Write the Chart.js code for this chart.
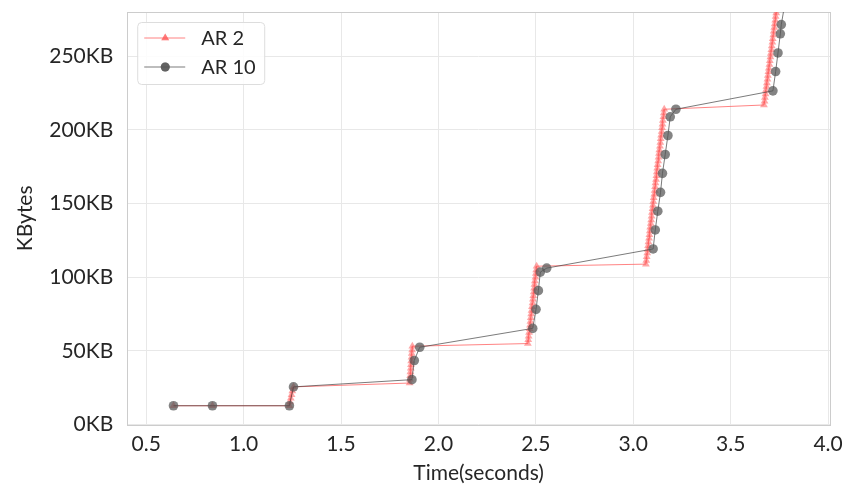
<!DOCTYPE html>
<html>
<head>
<meta charset="utf-8">
<script src="https://cdn.jsdelivr.net/npm/chart.js@4"></script>
<style>
  html, body { margin: 0; padding: 0; background: #fff; }
</style>
</head>
<body>
<canvas id="kbChart" width="846" height="487"></canvas>
<script>
// tick labels
let xTicks = [0.5, 1.0, 1.5, 2.0, 2.5, 3.0, 3.5, 4.0];
let yTicks = [0, 50, 100, 150, 200, 250];

// AR 2 : time (s) and cumulative KBytes
let ar2Time = [
  0.640, 0.840, 1.235,
  1.238, 1.242, 1.246, 1.250, 1.256,
  1.852, 1.853, 1.855, 1.856, 1.858, 1.859, 1.860, 1.862, 1.863, 1.865, 1.866,
  2.459, 2.461, 2.463, 2.465, 2.468, 2.470, 2.472, 2.474, 2.476, 2.478, 2.480,
  2.483, 2.485, 2.487, 2.489, 2.491, 2.493, 2.495, 2.498, 2.500, 2.502, 2.504,
  3.065, 3.067, 3.069, 3.072, 3.074, 3.076, 3.078, 3.081, 3.083, 3.085, 3.087,
  3.090, 3.092, 3.094, 3.096, 3.099, 3.101, 3.103, 3.105, 3.108, 3.110, 3.112,
  3.114, 3.117, 3.119, 3.121, 3.123, 3.125, 3.128, 3.130, 3.132, 3.134, 3.137,
  3.139, 3.141, 3.143, 3.146, 3.148, 3.150, 3.152, 3.155, 3.157, 3.159,
  3.671, 3.674, 3.676, 3.679, 3.681, 3.684, 3.686, 3.689, 3.691, 3.694, 3.696,
  3.699, 3.701, 3.704, 3.706, 3.709, 3.711, 3.714, 3.716, 3.719, 3.721, 3.724,
  3.726, 3.729, 3.731, 3.734, 3.736, 3.739
];
let ar2KB = [
  12.8, 12.8, 12.8,
  15.3, 17.8, 20.3, 22.8, 25.6,
  28.2, 30.7, 33.2, 35.7, 38.2, 40.7, 43.2, 45.7, 48.2, 50.7, 53.2,
  55.0, 57.5, 60.0, 62.5, 65.0, 67.5, 70.0, 72.5, 75.0, 77.5, 80.0,
  82.5, 85.0, 87.5, 90.0, 92.5, 95.0, 97.5, 100.0, 102.5, 105.0, 107.5,
  108.9, 111.4, 113.9, 116.4, 118.9, 121.4, 123.9, 126.4, 128.9, 131.4, 133.9,
  136.4, 138.9, 141.4, 143.9, 146.4, 148.9, 151.4, 153.9, 156.4, 158.9, 161.4,
  163.9, 166.4, 168.9, 171.4, 173.9, 176.4, 178.9, 181.4, 183.9, 186.4, 188.9,
  191.4, 193.9, 196.4, 198.9, 201.4, 203.9, 206.4, 208.9, 211.4, 214.0,
  216.9, 219.4, 221.9, 224.4, 226.9, 229.4, 231.9, 234.4, 236.9, 239.4, 241.9,
  244.4, 246.9, 249.4, 251.9, 254.4, 256.9, 259.4, 261.9, 264.4, 266.9, 269.4,
  271.9, 274.4, 276.9, 279.4, 281.9, 284.4
];

// AR 10 : time (s) and cumulative KBytes
let ar10Time = [
  0.640, 0.840, 1.235, 1.256,
  1.864, 1.876, 1.904,
  2.484, 2.501, 2.513, 2.523, 2.556,
  3.102, 3.113, 3.126, 3.140, 3.150, 3.164, 3.178, 3.190, 3.219,
  3.717, 3.731, 3.743, 3.755, 3.760, 3.780
];
let ar10KB = [
  12.8, 12.8, 12.8, 25.6,
  30.5, 43.5, 52.5,
  65.3, 78.2, 90.9, 103.5, 106.2,
  119.2, 132.1, 144.8, 157.6, 170.5, 183.3, 196.2, 208.9, 214.0,
  226.5, 239.6, 252.2, 265.2, 271.5, 287.0
];

let toPoints = (xs, ys) => xs.map((x, i) => ({ x: x, y: ys[i] }));

Chart.defaults.font.family = 'Lato';
Chart.defaults.color = '#262626';

// draws the full box around the plot
let frame = {
  id: 'frame',
  beforeDatasetsDraw(chart) {
    let a = chart.chartArea;
    let ctx = chart.ctx;
    ctx.save();
    ctx.strokeStyle = '#cccccc';
    ctx.lineWidth = 1;
    ctx.strokeRect(Math.round(a.left) + 0.5, Math.round(a.top) + 0.5,
                   Math.round(a.right - a.left), Math.round(a.bottom - a.top));
    ctx.restore();
  }
};

// legend drawn inside the plot, top left
let innerLegend = {
  id: 'innerLegend',
  afterDraw(chart) {
    let ctx = chart.ctx;
    let a = chart.chartArea;
    let x0 = a.left + 10, y0 = a.top + 10, w = 127, h = 62;
    ctx.save();
    ctx.beginPath();
    ctx.roundRect(x0 + 0.5, y0 + 0.5, w, h, 4);
    ctx.fillStyle = 'rgba(255,255,255,0.85)';
    ctx.fill();
    ctx.strokeStyle = '#dddddd';
    ctx.lineWidth = 1;
    ctx.stroke();
    chart.data.datasets.forEach((ds, i) => {
      let cy = y0 + 16 + i * 29;
      ctx.beginPath();
      ctx.moveTo(x0 + 7, cy);
      ctx.lineTo(x0 + 48, cy);
      ctx.strokeStyle = ds.borderColor;
      ctx.lineWidth = ds.borderWidth;
      ctx.stroke();
      ctx.fillStyle = ds.pointBackgroundColor;
      Chart.helpers.drawPoint(ctx, { pointStyle: ds.pointStyle, radius: 4.5, borderWidth: 0, rotation: 0 }, x0 + 28, cy);
      ctx.fill();
      ctx.fillStyle = '#262626';
      ctx.font = '20px Lato';
      ctx.textBaseline = 'middle';
      ctx.fillText(ds.label, x0 + 64, cy + 1);
    });
    ctx.restore();
  }
};

new Chart(document.getElementById('kbChart').getContext('2d'), {
  type: 'line',
  data: {
    datasets: [{
      label: 'AR 2',
      data: toPoints(ar2Time, ar2KB),
      borderColor: 'rgba(255,90,90,0.75)',
      borderWidth: 1,
      pointStyle: 'triangle',
      pointRadius: 4.5,
      pointBorderWidth: 0,
      pointBackgroundColor: 'rgba(255,80,80,0.5)',
      pointBorderColor: 'rgba(255,80,80,0.5)',
      tension: 0,
      clip: 0,
      order: 1
    }, {
      label: 'AR 10',
      data: toPoints(ar10Time, ar10KB),
      borderColor: 'rgba(60,60,60,0.85)',
      borderWidth: 0.8,
      pointStyle: 'circle',
      pointRadius: 4.8,
      pointBorderWidth: 0,
      pointBackgroundColor: 'rgba(85,85,85,0.72)',
      pointBorderColor: 'rgba(85,85,85,0.72)',
      tension: 0,
      clip: 0,
      order: 0
    }]
  },
  options: {
    responsive: false,
    animation: false,
    events: [],
    layout: { padding: { left: 13, right: 16, top: 12, bottom: 1 } },
    plugins: {
      legend: { display: false },
      tooltip: { enabled: false }
    },
    scales: {
      x: {
        type: 'linear',
        min: 0.4025,
        max: 4.01,
        afterBuildTicks: s => { s.ticks = xTicks.map(v => ({ value: v })); },
        afterFit: s => { s.paddingLeft = 0; s.paddingRight = 0; },
        ticks: { font: { size: 21 }, padding: 7, maxRotation: 0, callback: v => v.toFixed(1) },
        grid: { color: '#e8e8e8', drawTicks: false },
        border: { display: false },
        title: { display: true, text: 'Time(seconds)', font: { size: 21 }, padding: { top: -3, bottom: 0 } }
      },
      y: {
        type: 'linear',
        min: 0,
        max: 280,
        afterBuildTicks: s => { s.ticks = yTicks.map(v => ({ value: v })); },
        afterFit: s => { s.paddingTop = 0; s.paddingBottom = 0; },
        ticks: { font: { size: 21 }, padding: 14, callback: v => v + 'KB' },
        grid: { color: '#e8e8e8', drawTicks: false },
        border: { display: false },
        title: { display: true, text: 'KBytes', font: { size: 21 }, padding: { top: 0, bottom: -3 } }
      }
    }
  },
  plugins: [frame, innerLegend]
});
</script>
</body>
</html>
